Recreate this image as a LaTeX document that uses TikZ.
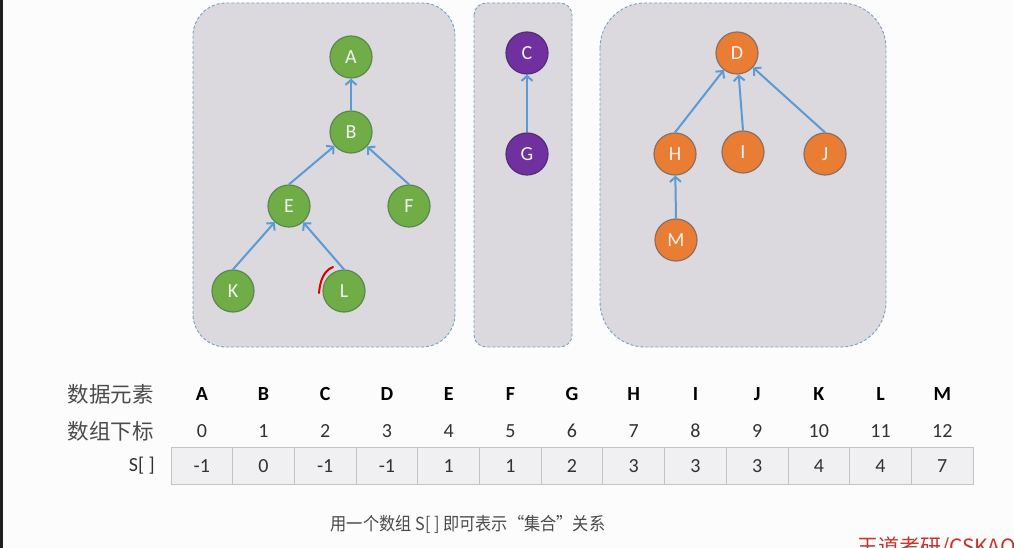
\documentclass[tikz,border=0pt]{standalone}
\usepackage{fontspec}
\setmainfont{Carlito}
\newfontfamily\cjk{Noto Sans CJK SC}
\usetikzlibrary{arrows.meta}
\definecolor{bgc}{RGB}{252,252,252}
\definecolor{strip}{RGB}{30,30,30}
\definecolor{boxfill}{RGB}{219,217,221}
\definecolor{boxline}{RGB}{120,160,190}
\definecolor{gfill}{RGB}{112,173,71}
\definecolor{gline}{RGB}{90,135,80}
\definecolor{pfill}{RGB}{112,48,160}
\definecolor{pline}{RGB}{85,45,120}
\definecolor{ofill}{RGB}{234,125,52}
\definecolor{oline}{RGB}{140,110,100}
\definecolor{edgec}{RGB}{91,155,213}
\definecolor{txt}{RGB}{50,50,50}
\definecolor{cjktxt}{RGB}{75,75,75}
\definecolor{cellfill}{RGB}{240,239,241}
\definecolor{cellline}{RGB}{195,195,197}
\definecolor{wmred}{RGB}{200,50,40}
\tikzset{
  grpbox/.style={fill=boxfill, draw=boxline, line width=0.9pt, dash pattern=on 3pt off 2pt},
  vnode/.style={circle, minimum size=42pt, inner sep=0pt, line width=1.2pt, text=white!95!black, font=\fontsize{20}{20}\selectfont},
  gnode/.style={vnode, fill=gfill, draw=gline},
  pnode/.style={vnode, fill=pfill, draw=pline},
  onode/.style={vnode, fill=ofill, draw=oline},
  edge/.style={draw=edgec, line width=2pt, -{Straight Barb[length=5pt,width=11pt,line width=2pt]}},
  hdr/.style={text=black, font=\bfseries\fontsize{20}{20}\selectfont, inner sep=0pt},
  idx/.style={text=txt, font=\fontsize{20}{20}\selectfont, inner sep=0pt},
  cell/.style={draw=cellline, fill=cellfill, line width=1pt, minimum width=61.7pt, minimum height=37pt, inner sep=0pt, text=txt, font=\fontsize{20}{20}\selectfont},
  rowlab/.style={anchor=east, text=cjktxt, inner sep=0pt, font=\cjk\fontsize{21.5}{21.5}\selectfont},
  redmark/.style={draw=red!85!black, line width=2pt, line cap=round}
}
\begin{document}
\begin{tikzpicture}[x=1pt,y=-1pt]
\useasboundingbox (0,0) rectangle (1014,548);
\clip (0,0) rectangle (1014,548);
\fill[bgc] (0,0) rectangle (1014,548);
\fill[strip] (0,0) rectangle (2.5,548);

% group boxes
\draw[grpbox, rounded corners=33pt] (193,3) rectangle (455,347);
\draw[grpbox, rounded corners=12pt] (474,3) rectangle (572,347);
\draw[grpbox, rounded corners=45pt] (600,3) rectangle (886,347);

% left tree
\node[gnode] (A) at (351,57) {A};
\node[gnode] (B) at (351,132) {B};
\node[gnode] (E) at (289,206) {E};
\node[gnode] (F) at (409,206) {F};
\node[gnode] (K) at (233,291) {K};
\node[gnode] (L) at (344,291) {L};
\draw[edge] (B.north) -- (A);
\draw[edge] (E.north) -- (B);
\draw[edge] (F.north) -- (B);
\draw[edge] (K.north) -- (E);
\draw[edge] (L.north) -- (E);
\draw[redmark] (319,293) .. controls (320,282) and (323,271) .. (333,267);

% middle tree
\node[pnode] (C) at (527,53) {C};
\node[pnode] (G) at (527,154) {G};
\draw[edge] (G.north) -- (C);

% right tree
\node[onode] (D) at (737,53) {D};
\node[onode] (H) at (675,154) {H};
\node[onode] (I) at (743,152) {I};
\node[onode] (J) at (825,154) {J};
\node[onode] (M) at (676,240) {M};
\draw[edge] (H.north) -- (D);
\draw[edge] (I.north) -- (D);
\draw[edge] (J.north) -- (D);
\draw[edge] (M.north) -- (H);

% table
\node[rowlab] (lab1) at (154,394) {数据元素};
\node[rowlab] (lab2) at (154,431) {数组下标};
\node[rowlab, text=txt, font=\fontsize{20}{20}\selectfont] (lab3) at (155,466) {S[ ]};
\foreach \i/\l/\v in {0/A/-1,1/B/0,2/C/-1,3/D/-1,4/E/1,5/F/1,6/G/2,7/H/3,8/I/3,9/J/3,10/K/4,11/L/4,12/M/7}{
  \node[cell] (s\i) at ({171+61.7*\i+30.85},466) {\v};
  \node[hdr] (h\i) at ({171+61.7*\i+30.85},394) {\l};
  \node[idx] (x\i) at ({171+61.7*\i+30.85},431) {\i};
}

% caption
\node[text=cjktxt, inner sep=0pt, font=\cjk\fontsize{18}{18}\selectfont] (cap) at (468,524) {\scalebox{0.9}[1]{用一个数组 S[ ] 即可表示“集合”关系}};
\node[anchor=north west, inner sep=0pt, text=wmred, font=\cjk\fontsize{21}{21}\selectfont] (wm) at (857,537) {王道考研/CSKAO};
\end{tikzpicture}
\end{document}
